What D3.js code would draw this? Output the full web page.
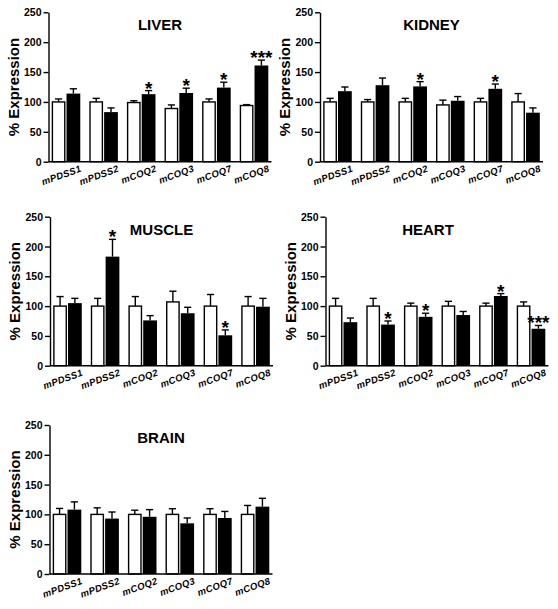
<!DOCTYPE html>
<html>
<head>
<meta charset="utf-8">
<script src="https://cdn.jsdelivr.net/npm/d3@7"></script>
<style>
  html, body { margin: 0; padding: 0; background: #fff; }
  svg { display: block; }
  text { font-family: "Liberation Sans", Arial, Helvetica, sans-serif; font-weight: bold; fill: #000; }
</style>
</head>
<body>
<svg id="chart" width="558" height="609"></svg>
<script>
// ---------------- DATA ----------------
const categories = ["mPDSS1", "mPDSS2", "mCOQ2", "mCOQ3", "mCOQ7", "mCOQ8"];
const yTicks = [0, 50, 100, 150, 200, 250];
const yLabel = "% Expression";
const tissues = ["LIVER", "KIDNEY", "MUSCLE", "HEART", "BRAIN"];

// control (white) / treated (black) mean values and upper error (SEM)
const liverControl    = [100, 100, 99, 89, 100, 94];
const liverControlErr = [5, 6, 3, 6, 5, 1.5];
const liverTreated    = [114, 83, 113, 115, 124, 161];
const liverTreatedErr = [8, 7, 6, 8, 9, 9];
const liverStars      = ["", "", "*", "*", "*", "***"];

const kidneyControl    = [100, 100, 100, 95, 100, 100];
const kidneyControlErr = [6, 4, 6, 8, 6, 14];
const kidneyTreated    = [118, 128, 126, 102, 122, 82];
const kidneyTreatedErr = [7, 12, 8, 7, 8, 8];
const kidneyStars      = ["", "", "*", "", "*", ""];

const muscleControl    = [100, 100, 100, 107, 100, 100];
const muscleControlErr = [16, 13, 16, 18, 19.5, 16];
const muscleTreated    = [105, 183, 76, 88, 51, 99];
const muscleTreatedErr = [8, 29, 8, 10, 9, 14];
const muscleStars      = ["", "*", "", "", "*", ""];

const heartControl    = [100, 100, 100, 100, 100, 100];
const heartControlErr = [13, 13, 5, 8, 5, 7];
const heartTreated    = [73, 69, 82, 85, 117, 62];
const heartTreatedErr = [7, 6, 6, 6, 4, 5.5];
const heartStars      = ["", "*", "*", "", "*", "***"];

const brainControl    = [100, 100, 100, 100, 100, 100];
const brainControlErr = [10, 11, 7, 9.5, 9.5, 15];
const brainTreated    = [108, 93, 96, 85, 94, 113];
const brainTreatedErr = [13, 11, 12, 9, 11, 14];
const brainStars      = ["", "", "", "", "", ""];

const seriesByTissue = {
  LIVER:  [liverControl, liverControlErr, liverTreated, liverTreatedErr, liverStars],
  KIDNEY: [kidneyControl, kidneyControlErr, kidneyTreated, kidneyTreatedErr, kidneyStars],
  MUSCLE: [muscleControl, muscleControlErr, muscleTreated, muscleTreatedErr, muscleStars],
  HEART:  [heartControl, heartControlErr, heartTreated, heartTreatedErr, heartStars],
  BRAIN:  [brainControl, brainControlErr, brainTreated, brainTreatedErr, brainStars]
};

// ---------------- LAYOUT ----------------
const layout = {
  LIVER:  { x: 48.5,  top: 12.3,  bottom: 161.7, titleDx: 0 },
  KIDNEY: { x: 320,   top: 12.3,  bottom: 161.7, titleDx: 0 },
  MUSCLE: { x: 50,    top: 216.7, bottom: 365.7, titleDx: 0 },
  HEART:  { x: 325.5, top: 216.7, bottom: 365.7, titleDx: -9 },
  BRAIN:  { x: 49.5,  top: 425,   bottom: 574,   titleDx: 0 }
};
const plotW = 223;

const svg = d3.select("#chart");

tissues.forEach(name => {
  const L = layout[name];
  const [ctrl, ctrlErr, trt, trtErr, stars] = seriesByTissue[name];
  const g = svg.append("g");

  const x = d3.scaleBand().domain(categories)
    .range([L.x, L.x + plotW]).paddingInner(0.24).paddingOuter(0.085);
  const xs = d3.scaleBand().domain(["c", "t"])
    .range([0, x.bandwidth()]).paddingInner(0.07);
  const y = d3.scaleLinear().domain([0, 250]).range([L.bottom, L.top]);

  const rows = categories.map((c, i) => ({
    cat: c, c: ctrl[i], ce: ctrlErr[i], t: trt[i], te: trtErr[i], star: stars[i]
  }));

  const bw = xs.bandwidth();
  const capW = bw * 0.52;

  // error bars (upper only), drawn before bars
  const errs = [];
  rows.forEach(r => {
    errs.push({ cx: x(r.cat) + xs("c") + bw / 2, v: r.c, e: r.ce });
    errs.push({ cx: x(r.cat) + xs("t") + bw / 2, v: r.t, e: r.te });
  });
  const eg = g.append("g").attr("stroke", "#000").attr("stroke-width", 1.4).attr("fill", "none");
  eg.selectAll("line.v").data(errs).join("line").attr("class", "v")
    .attr("x1", d => d.cx).attr("x2", d => d.cx)
    .attr("y1", d => y(d.v)).attr("y2", d => y(d.v + d.e));
  eg.selectAll("line.cap").data(errs).join("line").attr("class", "cap")
    .attr("x1", d => d.cx - capW / 2).attr("x2", d => d.cx + capW / 2)
    .attr("y1", d => y(d.v + d.e)).attr("y2", d => y(d.v + d.e));

  // control bars (white)
  g.append("g").selectAll("rect").data(rows).join("rect")
    .attr("x", d => x(d.cat) + xs("c") + 0.7)
    .attr("width", bw - 1.4)
    .attr("y", d => y(d.c))
    .attr("height", d => y(0) - y(d.c))
    .attr("fill", "#fff").attr("stroke", "#000").attr("stroke-width", 1.4);

  // treated bars (black)
  g.append("g").selectAll("rect").data(rows).join("rect")
    .attr("x", d => x(d.cat) + xs("t"))
    .attr("width", bw)
    .attr("y", d => y(d.t))
    .attr("height", d => y(0) - y(d.t))
    .attr("fill", "#000");

  // significance stars
  g.append("g").selectAll("text").data(rows.filter(r => r.star)).join("text")
    .attr("x", d => x(d.cat) + xs("t") + bw / 2)
    .attr("y", d => y(d.t + d.te) + 4)
    .attr("text-anchor", "middle")
    .attr("font-size", 19)
    .text(d => d.star);

  // y axis
  const yAxis = d3.axisLeft(y).tickValues(yTicks).tickSize(5).tickPadding(2).tickSizeOuter(0);
  const ya = g.append("g").attr("transform", `translate(${L.x},0)`).call(yAxis);
  ya.select(".domain").attr("stroke-width", 1.4);
  ya.selectAll(".tick line").attr("stroke-width", 1.4);
  ya.selectAll(".tick text").attr("font-size", 10.5).attr("font-weight", "bold")
    .attr("font-family", "'Liberation Sans', Arial, sans-serif").attr("dy", "0.34em");

  // x axis (line only, no ticks)
  const xAxis = d3.axisBottom(x).tickSize(0).tickSizeOuter(0).tickFormat("");
  const xa = g.append("g").attr("transform", `translate(0,${L.bottom})`).call(xAxis);
  xa.select(".domain").attr("stroke-width", 1.4).attr("d", `M${L.x},0H${L.x + plotW}`);

  // category labels, rotated
  g.append("g").selectAll("text").data(categories).join("text")
    .attr("transform", c => `translate(${x(c) + x.bandwidth() / 2 + 16},${L.bottom + 9.5}) rotate(-20)`)
    .attr("text-anchor", "end")
    .attr("font-size", 9.5)
    .attr("font-style", "italic")
    .attr("letter-spacing", 0.3)
    .text(c => c);

  // y label
  g.append("text")
    .attr("transform", `translate(${L.x - 30},${(L.top + L.bottom) / 2}) rotate(-90)`)
    .attr("text-anchor", "middle")
    .attr("font-size", 15)
    .text(yLabel);

  // title
  g.append("text")
    .attr("x", L.x + plotW / 2 + L.titleDx)
    .attr("y", L.top + 18)
    .attr("text-anchor", "middle")
    .attr("font-size", 15)
    .text(name);
});
</script>
</body>
</html>
